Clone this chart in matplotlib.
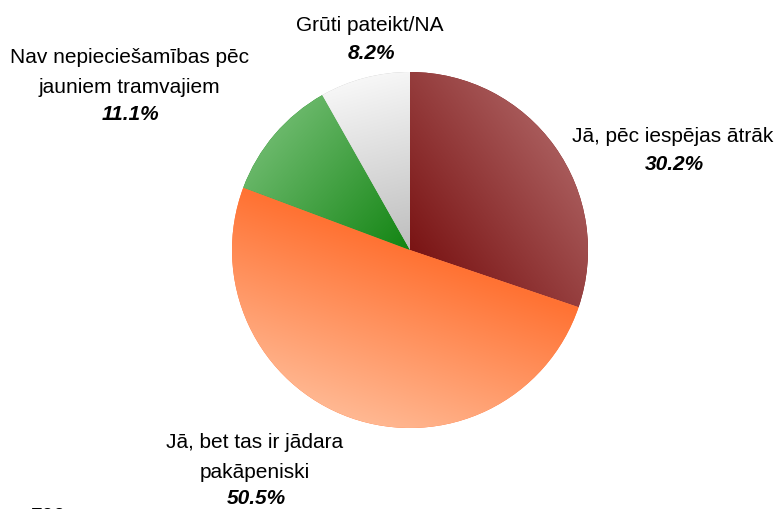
import numpy as np
import matplotlib.pyplot as plt
from matplotlib.colors import to_rgb

# survey answers, clockwise from 12 o'clock
labels = ["Jā, pēc iespējas ātrāk", "Jā, bet tas ir jādara\npakāpeniski",
          "Nav nepieciešamības pēc\njauniem tramvajiem", "Grūti pateikt/NA"]
shares = [30.2, 50.5, 11.1, 8.2]
inner_colors = ["#7a1414", "#ff7233", "#128412", "#bdbdbd"]
outer_colors = ["#a85a5a", "#ffb892", "#6ab86a", "#f7f7f7"]

plt.rcParams["font.family"] = ["Liberation Sans", "DejaVu Sans"]

W, H = 780, 509
fig = plt.figure(figsize=(W / 100, H / 100), dpi=100)
ax = fig.add_axes([0, 0, 1, 1])

cx, cy, r = 410, H - 250, 178
wedges, _ = ax.pie(shares, center=(cx, cy), radius=r, startangle=90,
                   counterclock=False, colors=inner_colors, frame=True)
ax.set_xlim(0, W)
ax.set_ylim(0, H)
ax.set_aspect("equal")
ax.axis("off")

# gradient fill: dark near the centre, lighter towards the rim
n = 400
xs = np.linspace(cx - r, cx + r, n)
ys = np.linspace(cy - r, cy + r, n)
X, Y = np.meshgrid(xs, ys)
for w, c0, c1 in zip(wedges, inner_colors, outer_colors):
    mid = np.deg2rad((w.theta1 + w.theta2) / 2)
    proj = ((X - cx) * np.cos(mid) + (Y - cy) * np.sin(mid)) / r
    t = np.clip(proj, 0, 1)[..., None]
    img = np.array(to_rgb(c0)) * (1 - t) + np.array(to_rgb(c1)) * t
    im = ax.imshow(img, extent=(cx - r, cx + r, cy - r, cy + r),
                   origin="lower", zorder=2, interpolation="bilinear")
    im.set_clip_path(w)

# label anchors (pixel coords, y from top): x centre, y of first line
label_pos = [(673, 136), (255, 442), (129, 57), (370, 25)]
step = 30
for lab, p, (lx, ly) in zip(labels, shares, label_pos):
    lines = lab.split("\n")
    for i, line in enumerate(lines):
        ax.text(lx, H - (ly + i * step), line, ha="center", va="center",
                fontsize=15, zorder=5)
    pct_y = ly + len(lines) * step - (3 if len(lines) > 1 else 2)
    ax.text(lx + 1, H - pct_y, f"{p:.1f}%", ha="center", va="center",
            fontsize=15, fontweight="bold", fontstyle="italic", zorder=5)

# stray axis label cut off at the bottom edge
ax.text(48, H - 516, "700", ha="center", va="center", fontsize=15)

fig.savefig("out.png", dpi=100)
